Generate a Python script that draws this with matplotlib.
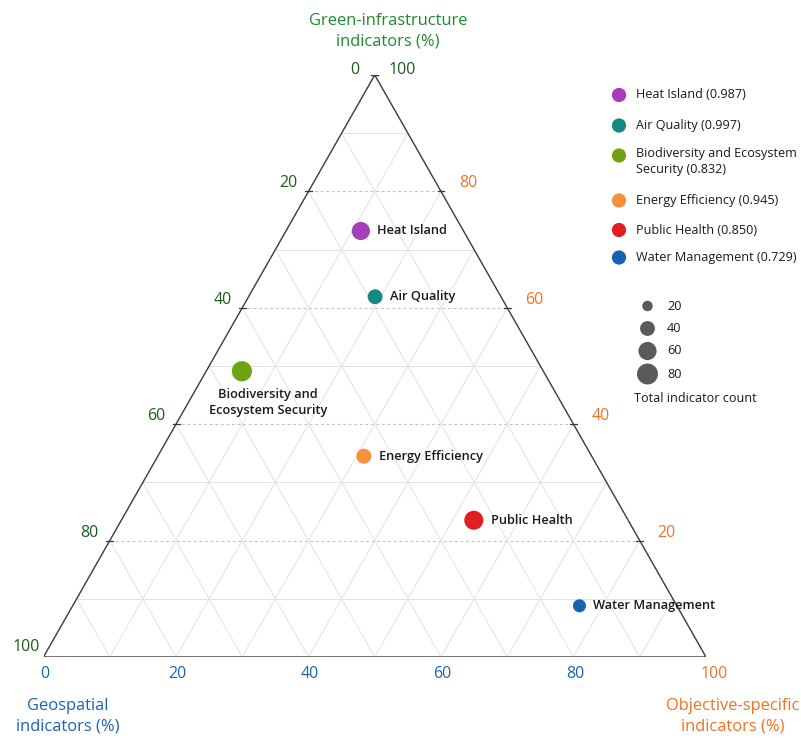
import matplotlib
matplotlib.use("Agg")
import matplotlib.pyplot as plt
from matplotlib.transforms import ScaledTranslation
import numpy as np

plt.rcParams['font.family'] = ['Open Sans', 'DejaVu Sans']

# ---- data -------------------------------------------------------------
categories = ["Heat Island", "Air Quality", "Biodiversity and Ecosystem Security",
              "Energy Efficiency", "Public Health", "Water Management"]
point_labels = ["Heat Island", "Air Quality", "Biodiversity and\nEcosystem Security",
                "Energy Efficiency", "Public Health", "Water Management"]
legend_labels = ["Heat Island (0.987)", "Air Quality (0.997)",
                 "Biodiversity and Ecosystem\nSecurity (0.832)",
                 "Energy Efficiency (0.945)", "Public Health (0.850)",
                 "Water Management (0.729)"]
geospatial = [11.3, 19.1, 5.4, 31.1, 53.2, 76.5]
green_infra = [15.5, 19.0, 45.5, 34.4, 23.3, 14.7]
objective = [73.2, 61.9, 49.1, 34.5, 23.5, 8.8]
counts = [60, 40, 74, 41, 66, 31]
colors = ["#a43fb5", "#14897f", "#6ea414", "#f5913b", "#e01f22", "#1563b1"]
size_levels = [20, 40, 60, 80]
tick_values = [0, 20, 40, 60, 80, 100]

GREEN_T = "#1f8a2e"
GREEN_L = "#1c5c1c"
BLUE = "#1a63b8"
ORANGE = "#f27322"
SIZE_K = 2.85  # marker area (pt^2) per indicator

# ---- figure -----------------------------------------------------------
W, H = 801, 738
fig = plt.figure(figsize=(W / 100, H / 100), dpi=100)
fig.patch.set_facecolor("white")
ax = fig.add_axes([43.5 / W, (H - 657) / H, 662.5 / W, 582 / H])
ax.set_xlim(0, 1)
ax.set_ylim(0, 1)
ax.axis("off")


def to_xy(geo, grn, obj):
    geo, grn, obj = (np.asarray(v, float) for v in (geo, grn, obj))
    tot = geo + grn + obj
    b = geo / tot
    h = obj / tot
    return b + h / 2, h


def shifted(dx, dy):
    """data transform shifted by (dx, dy) pixels, dy pointing down"""
    return ax.transData + ScaledTranslation(dx / 100, -dy / 100, fig.dpi_scale_trans)


# grid
for k in range(1, 10):
    t = k / 10
    major = k % 2 == 0
    # constant objective (horizontal)
    ax.plot([t / 2, 1 - t / 2], [t, t], color="#c2c2c2" if major else "#e2e2e2",
            lw=0.8 if major else 0.7, ls=(0, (2.5, 2.5)) if major else "-", zorder=1)
    # constant geospatial (parallel to left side)
    ax.plot([t, t + (1 - t) / 2], [0, 1 - t], color="#e2e2e2", lw=0.7, zorder=1)
    # constant green-infrastructure (parallel to right side)
    ax.plot([1 - t, (1 - t) / 2], [0, 1 - t], color="#e2e2e2", lw=0.7, zorder=1)

# outline
ax.plot([0, 1, 0.5, 0], [0, 0, 1, 0], color="#3a3a3a", lw=1.0, zorder=2,
        solid_joinstyle="miter")

# ticks on the sloped sides
tk = 3.5 / 662.5
for v in tick_values[1:]:
    h = v / 100
    ax.plot([h / 2 - tk, h / 2 + tk], [h, h], color="#3a3a3a", lw=0.9, zorder=2)
    ax.plot([1 - h / 2 - tk, 1 - h / 2 + tk], [h, h], color="#3a3a3a", lw=0.9, zorder=2)

# tick labels
fs_tick = 11.5
for v in tick_values:
    h = 1 - v / 100  # green-infrastructure on the left side
    dy = -5 if v == 0 else (-10 if v == 100 else -8)
    dx = -17 if v == 100 else -20
    ax.text(h / 2, h, str(v), transform=shifted(dx, dy), ha="center", va="center",
            fontsize=fs_tick, color=GREEN_L, clip_on=False)
for v in tick_values[1:]:
    h = v / 100  # objective-specific on the right side
    col = GREEN_L if v == 100 else ORANGE
    dy = -5 if v == 100 else -8
    ax.text(1 - h / 2, h, str(v), transform=shifted(27, dy), ha="center", va="center",
            fontsize=fs_tick, color=col, clip_on=False)
for v in tick_values:
    b = v / 100  # geospatial along the bottom
    col = ORANGE if v == 100 else BLUE
    dx = 8 if v == 100 else 1.5
    ax.text(b, 0, str(v), transform=shifted(dx, 17), ha="center", va="center",
            fontsize=fs_tick, color=col, clip_on=False)

# axis titles
fs_title = 11.9
fig.text(388 / W, 1 - 31 / H, "Green-infrastructure\nindicators (%)", ha="center",
         va="center", fontsize=fs_title, color=GREEN_T, linespacing=1.4)
fig.text(68 / W, 1 - 716 / H, "Geospatial\nindicators (%)", ha="center",
         va="center", fontsize=fs_title, color=BLUE, linespacing=1.4)
fig.text(733 / W, 1 - 716 / H, "Objective-specific\nindicators (%)", ha="center",
         va="center", fontsize=fs_title, color=ORANGE, linespacing=1.4)

# points
xs, ys = to_xy(geospatial, green_infra, objective)
sizes = [SIZE_K * c for c in counts]
ax.scatter(xs, ys, s=sizes, c=colors, edgecolors="none", zorder=4, clip_on=False)

fs_pt = 9.2
for x, y, lab, s in zip(xs, ys, point_labels, sizes):
    r_px = np.sqrt(s) / 0.72 / 2
    if "\n" in lab:
        ax.text(x, y, lab, transform=shifted(26, 31), ha="center", va="center",
                fontsize=fs_pt, fontweight="semibold", color="#1a1a1a",
                linespacing=1.3, zorder=5)
    else:
        ax.text(x, y, lab, transform=shifted(r_px + 7.5, 0), ha="left", va="center",
                fontsize=fs_pt, fontweight="semibold", color="#1a1a1a", zorder=5)

# category legend
lg = fig.add_axes([0, 0, 1, 1], facecolor="none")
lg.set_xlim(0, W)
lg.set_ylim(H, 0)
lg.axis("off")
fs_leg = 9.1
leg_rows = [95, 125.5, 155.5, 200.5, 230, 257.5]
for yy, lab, col in zip(leg_rows, legend_labels, colors):
    lg.scatter([619], [yy], s=105, color=col, edgecolors="none")
    two = "\n" in lab
    lg.text(636, yy + (-8.5 if two else 0), lab, ha="left",
            va="top" if two else "center",
            fontsize=fs_leg, color="#1a1a1a", linespacing=1.25)

# size legend
size_rows = [306, 328.5, 351, 374]
for yy, n in zip(size_rows, size_levels):
    lg.scatter([647.5], [yy], s=SIZE_K * n, color="#5a5a5a", edgecolors="none")
    lg.text(667, yy, str(n), ha="left", va="center", fontsize=fs_leg, color="#1a1a1a")
lg.text(695, 398, "Total indicator count", ha="center", va="center",
        fontsize=fs_leg, color="#1a1a1a")

fig.savefig("out.png", dpi=100, facecolor="white")
